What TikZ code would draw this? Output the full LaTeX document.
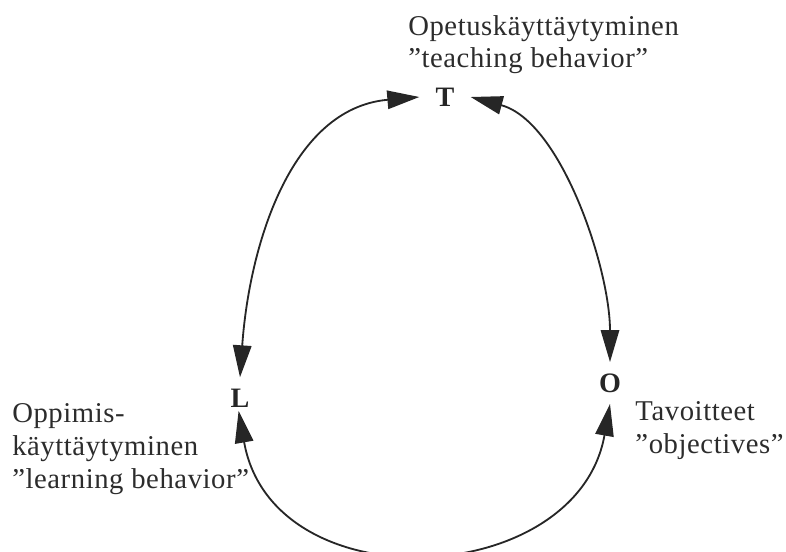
\documentclass[tikz,border=0pt]{standalone}
\usepackage{fontspec}
\setmainfont{Liberation Serif}
\newfontfamily\labelfont[LetterSpace=2]{Liberation Serif}
\usetikzlibrary{arrows.meta}
\definecolor{inkdark}{HTML}{262626}
\definecolor{textgray}{HTML}{2C2C2C}

\begin{document}
\begin{tikzpicture}[
    >={Triangle[length=0.8cm, width=0.46cm]},
    % ── shared styles ──
    corner letter/.style={font=\fontsize{20}{24}\selectfont\bfseries, text=inkdark,
        inner xsep=0.4cm, inner ysep=0.28cm},
    role label/.style={font=\labelfont\fontsize{20.4}{23.2}\selectfont, text=textgray,
        align=left, anchor=base west, inner sep=0pt},
    cycle link/.style={<->, draw=inkdark, line width=1.3pt},
]

% ══════════════════════════════════════════════════════════════════════
%  FRAME
% ══════════════════════════════════════════════════════════════════════
\useasboundingbox (0,0) rectangle (19.65,-13.8);

% ══════════════════════════════════════════════════════════════════════
%  CORNERS
% ══════════════════════════════════════════════════════════════════════
\node[corner letter] (T) at (11.125,-2.425) {T};
\node[corner letter] (L) at (6.0,-9.95)     {L};
\node[corner letter] (O) at (15.25,-9.575)  {O};

% ── labels (base = last line) ──
\node[role label] (Tlabel) at (10.2,-1.7)
    {Opetuskäyttäytyminen\\”teaching behavior”};
\node[role label] (Llabel) at (0.3,-12.2)
    {Oppimis-\\käyttäytyminen\\”learning behavior”};
\node[role label] (Olabel) at (15.88,-11.325)
    {Tavoitteet\\”objectives”};

% ══════════════════════════════════════════════════════════════════════
%  CYCLE ARROWS
% ══════════════════════════════════════════════════════════════════════
\draw[cycle link] (T.west) to[out=185, in=86, looseness=1] (L.north);
\draw[cycle link] (T.east) to[out=-15, in=90, looseness=0.8] (O.north);
\draw[cycle link, shorten <=-0.2cm] (L.south) to[out=-80, in=-100, looseness=1.3] (O.south);

\end{tikzpicture}
\end{document}
